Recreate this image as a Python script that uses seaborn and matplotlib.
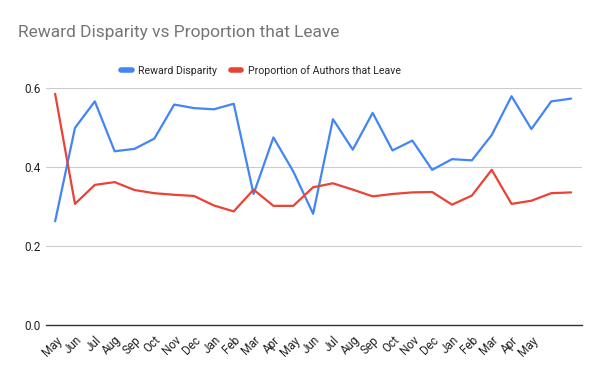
import numpy as np
import pandas as pd
import seaborn as sns
import matplotlib.pyplot as plt
from matplotlib.lines import Line2D

months = ["May", "Jun", "Jul", "Aug", "Sep", "Oct", "Nov", "Dec", "Jan", "Feb", "Mar", "Apr",
          "May", "Jun", "Jul", "Aug", "Sep", "Oct", "Nov", "Dec", "Jan", "Feb", "Mar", "Apr",
          "May", "", ""]

reward_disparity = [0.263, 0.499, 0.566, 0.440, 0.446, 0.472, 0.558, 0.549, 0.546, 0.560,
                    0.332, 0.475, 0.389, 0.282, 0.521, 0.444, 0.537, 0.442, 0.467, 0.393,
                    0.420, 0.417, 0.481, 0.579, 0.496, 0.566, 0.573]

prop_leave = [0.585, 0.307, 0.355, 0.362, 0.342, 0.334, 0.330, 0.327, 0.303, 0.288,
              0.343, 0.302, 0.302, 0.349, 0.359, 0.343, 0.326, 0.332, 0.336, 0.337,
              0.305, 0.328, 0.393, 0.307, 0.315, 0.334, 0.336]

series_names = ["Reward Disparity", "Proportion of Authors that Leave"]
colors = ["#4285F4", "#EA4335"]

idx = np.arange(len(months))
df = pd.DataFrame({
    "idx": np.concatenate([idx, idx]),
    "value": reward_disparity + prop_leave,
    "series": [series_names[0]] * len(idx) + [series_names[1]] * len(idx),
})

sns.set_style("white")
plt.rcParams['font.family'] = ['Roboto', 'DejaVu Sans']

fig = plt.figure(figsize=(6, 3.71), dpi=100)
ax = fig.add_axes([0.077, 0.123, 0.893, 0.64])

sns.lineplot(data=df, x="idx", y="value", hue="series", palette=colors,
             linewidth=1.6, ax=ax, legend=False)

ax.set_xlim(-0.45, len(months) - 0.45)
ax.set_ylim(0, 0.6)
ax.set_yticks([0, 0.2, 0.4, 0.6])
ax.set_yticklabels(["0.0", "0.2", "0.4", "0.6"], fontsize=8.5, color="#222222")
ax.set_xticks(idx[:25])
ax.set_xticklabels(months[:25], rotation=45, ha="right", rotation_mode="anchor",
                   fontsize=8.5, color="#222222")
ax.tick_params(axis="both", length=0, pad=4)
ax.tick_params(axis="x", pad=6)
ax.set_xlabel("")
ax.set_ylabel("")
ax.grid(axis="y", color="#cccccc", linewidth=0.8)
ax.set_axisbelow(True)
for s in ["top", "right", "left"]:
    ax.spines[s].set_visible(False)
ax.spines["bottom"].set_color("#333333")
ax.spines["bottom"].set_linewidth(1.0)

fig.text(0.03, 0.913, "Reward Disparity vs Proportion that Leave", fontsize=12.5,
         color="#757575", va="center", ha="left")

handles = [Line2D([0], [0], color=c, linewidth=4) for c in colors]
fig.legend(handles, series_names, loc="center", bbox_to_anchor=(0.435, 0.81), ncol=2,
           frameon=False, fontsize=7.6, handlelength=1.0, columnspacing=1.3,
           handletextpad=0.6)

fig.savefig("out.png", dpi=100)
